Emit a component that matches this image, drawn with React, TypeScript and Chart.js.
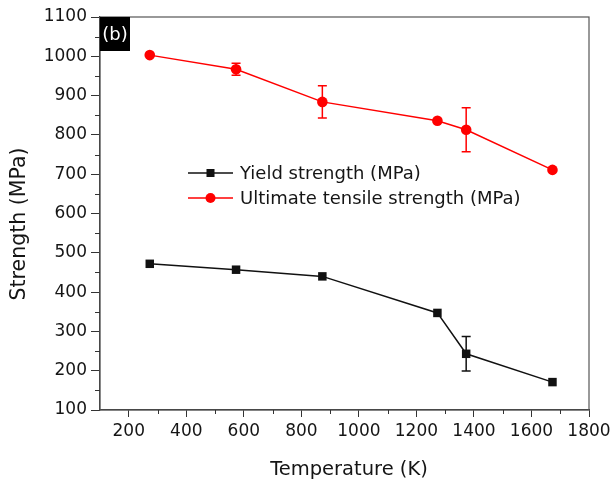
import React, { useEffect, useRef } from "react";
import { Chart, registerables } from "chart.js";

Chart.register(...registerables);

const temperatures = [273, 573, 873, 1273, 1373, 1673];
const yieldStrength = [472, 457, 440, 347, 243, 171];
const yieldError = [0, 0, 0, 0, 44, 0];
const utsStrength = [1003, 967, 884, 836, 813, 711];
const utsError = [0, 15, 41, 0, 56, 0];
const xTickValues = [200, 400, 600, 800, 1000, 1200, 1400, 1600, 1800];
const xMinorValues = [300, 500, 700, 900, 1100, 1300, 1500, 1700];
const yMinorValues = [150, 250, 350, 450, 550, 650, 750, 850, 950, 1050];
const seriesLabels = ["Yield strength (MPa)", "Ultimate tensile strength (MPa)"];
const seriesColors = ["#111111", "#ff0000"];
const panelLabel = "(b)";
const xTitle = "Temperature (K)";
const yTitle = "Strength (MPa)";

const FONT = "'DejaVu Sans', 'Liberation Sans', Arial, sans-serif";
const TEXT = "#151515";
const AXIS = "#333333";

const errorBarPlugin = {
  id: "errorBars",
  afterDatasetsDraw(chart: any) {
    const { ctx, scales } = chart;
    const sets = [
      { values: yieldStrength, errs: yieldError, color: seriesColors[0] },
      { values: utsStrength, errs: utsError, color: seriesColors[1] },
    ];
    ctx.save();
    ctx.lineWidth = 1.5;
    sets.forEach((s) => {
      ctx.strokeStyle = s.color;
      s.values.forEach((v, i) => {
        const e = s.errs[i];
        if (!e) return;
        const x = scales.x.getPixelForValue(temperatures[i]);
        const y1 = scales.y.getPixelForValue(v + e);
        const y2 = scales.y.getPixelForValue(v - e);
        ctx.beginPath();
        ctx.moveTo(x, y1);
        ctx.lineTo(x, y2);
        ctx.moveTo(x - 4.5, y1);
        ctx.lineTo(x + 4.5, y1);
        ctx.moveTo(x - 4.5, y2);
        ctx.lineTo(x + 4.5, y2);
        ctx.stroke();
      });
    });
    ctx.restore();
  },
};

const decorPlugin = {
  id: "decor",
  afterDraw(chart: any) {
    const { ctx, chartArea: a, scales } = chart;
    ctx.save();
    ctx.strokeStyle = "#555555";
    ctx.lineWidth = 1.2;
    ctx.strokeRect(a.left, a.top, a.right - a.left, a.bottom - a.top);
    ctx.strokeStyle = AXIS;
    ctx.lineWidth = 1;
    ctx.beginPath();
    xMinorValues.forEach((v) => {
      const x = Math.round(scales.x.getPixelForValue(v)) + 0.5;
      ctx.moveTo(x, a.bottom);
      ctx.lineTo(x, a.bottom + 4);
    });
    yMinorValues.forEach((v) => {
      const y = Math.round(scales.y.getPixelForValue(v)) + 0.5;
      ctx.moveTo(a.left, y);
      ctx.lineTo(a.left - 5, y);
    });
    ctx.stroke();
    // panel label
    ctx.fillStyle = "#000000";
    ctx.fillRect(a.left, a.top, 30, 34);
    ctx.fillStyle = "#ffffff";
    ctx.font = `18px ${FONT}`;
    ctx.textAlign = "center";
    ctx.textBaseline = "middle";
    ctx.fillText(panelLabel, a.left + 15, a.top + 18);
    // axis titles
    ctx.fillStyle = TEXT;
    ctx.font = `19.5px ${FONT}`;
    ctx.fillText(xTitle, a.left + 249, 470);
    ctx.save();
    ctx.translate(20, 224);
    ctx.rotate(-Math.PI / 2);
    ctx.font = `20.5px ${FONT}`;
    ctx.fillText(yTitle, 0, 0);
    ctx.restore();
    // legend
    const lx = a.left + 88;
    const rows = [a.top + 156, a.top + 181];
    ctx.textAlign = "left";
    ctx.font = `18px ${FONT}`;
    seriesLabels.forEach((label, i) => {
      const y = rows[i];
      ctx.strokeStyle = seriesColors[i];
      ctx.lineWidth = 1.5;
      ctx.beginPath();
      ctx.moveTo(lx, y);
      ctx.lineTo(lx + 45, y);
      ctx.stroke();
      ctx.fillStyle = seriesColors[i];
      if (i === 0) {
        ctx.fillRect(lx + 22.5 - 4, y - 4, 8, 8);
      } else {
        ctx.beginPath();
        ctx.arc(lx + 22.5, y, 5, 0, Math.PI * 2);
        ctx.fill();
      }
      ctx.fillStyle = TEXT;
      ctx.fillText(label, lx + 52, y + 1);
    });
    ctx.restore();
  },
};

export default function App() {
  const ref = useRef<HTMLCanvasElement | null>(null);
  useEffect(() => {
    if (!ref.current) return;
    const chart = new Chart(ref.current, {
      type: "line",
      data: {
        datasets: [
          {
            label: seriesLabels[0],
            data: temperatures.map((t, i) => ({ x: t, y: yieldStrength[i] })),
            borderColor: seriesColors[0],
            backgroundColor: seriesColors[0],
            borderWidth: 1.5,
            pointStyle: "rect",
            pointRadius: 6,
            pointBorderWidth: 0,
            tension: 0,
          },
          {
            label: seriesLabels[1],
            data: temperatures.map((t, i) => ({ x: t, y: utsStrength[i] })),
            borderColor: seriesColors[1],
            backgroundColor: seriesColors[1],
            borderWidth: 1.5,
            pointStyle: "circle",
            pointRadius: 5.3,
            pointBorderWidth: 0,
            tension: 0,
          },
        ],
      },
      options: {
        responsive: false,
        animation: false,
        layout: { padding: { left: 0, top: 17, right: 23, bottom: 0 } },
        plugins: {
          legend: { display: false },
          tooltip: { enabled: false },
        },
        scales: {
          x: {
            type: "linear",
            min: 100,
            max: 1800,
            afterBuildTicks: (scale: any) => {
              scale.ticks = xTickValues.map((v) => ({ value: v }));
            },
            afterFit: (scale: any) => {
              scale.height = 76;
              scale.paddingLeft = 0;
              scale.paddingRight = 0;
            },
            grid: {
              display: true,
              drawOnChartArea: false,
              drawTicks: true,
              tickLength: 7,
              tickColor: AXIS,
              tickWidth: 1,
            },
            border: { display: true, color: AXIS, width: 1.2 },
            ticks: {
              color: TEXT,
              font: { family: FONT, size: 17 },
              padding: 4,
              maxRotation: 0,
              autoSkip: false,
              callback: (v: any) => String(v),
            },
            title: { display: false },
          },
          y: {
            type: "linear",
            min: 100,
            max: 1100,
            afterFit: (scale: any) => {
              scale.width = 100;
              scale.paddingTop = 0;
              scale.paddingBottom = 0;
            },
            grid: {
              display: true,
              drawOnChartArea: false,
              drawTicks: true,
              tickLength: 9,
              tickColor: AXIS,
              tickWidth: 1,
            },
            border: { display: true, color: AXIS, width: 1.2 },
            ticks: {
              stepSize: 100,
              color: TEXT,
              font: { family: FONT, size: 17 },
              padding: 4,
              autoSkip: false,
              callback: (v: any) => String(v),
            },
            title: { display: false },
          },
        },
      },
      plugins: [errorBarPlugin, decorPlugin],
    } as any);
    return () => chart.destroy();
  }, []);
  return (
    <div style={{ position: "fixed", left: 0, top: 0, width: 612, height: 486, background: "#ffffff" }}>
      <canvas ref={ref} width={612} height={486} style={{ width: 612, height: 486 }} />
    </div>
  );
}
